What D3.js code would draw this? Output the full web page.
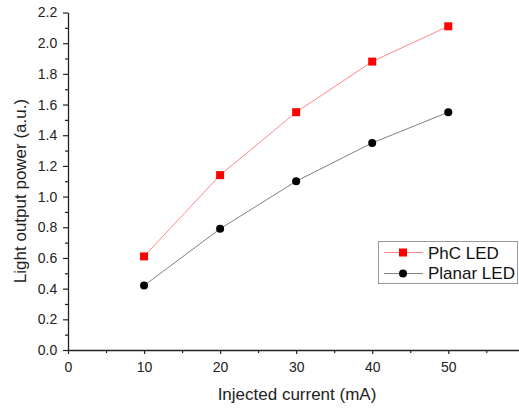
<!DOCTYPE html>
<html>
<head>
<meta charset="utf-8">
<script src="https://cdn.jsdelivr.net/npm/d3@7"></script>
<style>
  body { margin: 0; background: #fff; }
  text { font-family: "Liberation Sans", Arial, sans-serif; }
</style>
</head>
<body>
<svg id="chart" width="519" height="411"></svg>
<script>
// data
let currents = [10, 20, 30, 40, 50]
let phcLed = [0.61, 1.14, 1.55, 1.88, 2.11]
let planarLed = [0.42, 0.79, 1.10, 1.35, 1.55]
let xTicks = [0, 10, 20, 30, 40, 50]
let yTicks = [0, 0.2, 0.4, 0.6, 0.8, 1.0, 1.2, 1.4, 1.6, 1.8, 2.0, 2.2]

let svg = d3.select('#chart')
let padLeft = 68, padBottom = 350, padTop = 12.5

let x = d3.scaleLinear().domain([0, 59.3]).range([padLeft, 519])
let y = d3.scaleLinear().domain([0, 2.2]).range([padBottom, padTop])

// axes
let xAxis = d3.axisBottom(x).tickValues(xTicks).tickFormat(d3.format('d')).tickSize(4).tickSizeOuter(0)
let gx = svg.append('g').attr('transform', 'translate(0,' + padBottom + ')').call(xAxis)
svg.append('g').attr('transform', 'translate(0,' + padBottom + ')')
  .call(d3.axisBottom(x).tickValues(d3.range(5, 59, 10)).tickFormat('').tickSize(3).tickSizeOuter(0))
  .select('.domain').remove()

let yAxis = d3.axisLeft(y).tickValues(yTicks).tickFormat(d3.format('.1f')).tickSize(5).tickSizeOuter(0)
let gy = svg.append('g').attr('transform', 'translate(' + padLeft + ',0)').call(yAxis)
svg.append('g').attr('transform', 'translate(' + padLeft + ',0)')
  .call(d3.axisLeft(y).tickValues(d3.range(0.1, 2.2, 0.2)).tickFormat('').tickSize(3).tickSizeOuter(0))
  .select('.domain').remove()

svg.selectAll('.domain').attr('stroke', '#222').attr('stroke-width', 1.3)
svg.selectAll('.tick line').attr('stroke', '#222').attr('stroke-width', 1.2)
gx.selectAll('text').attr('font-size', 14).attr('fill', '#222').attr('dy', '1.1em')
gy.selectAll('text').attr('font-size', 14).attr('fill', '#222').attr('dx', '-0.2em')

// titles
svg.append('text').attr('x', 297).attr('y', 400).attr('text-anchor', 'middle')
  .attr('font-size', 17).attr('fill', '#222').text('Injected current (mA)')
svg.append('text').attr('transform', 'translate(26,191) rotate(-90)').attr('text-anchor', 'middle')
  .attr('font-size', 17).attr('fill', '#222').text('Light output power (a.u.)')

// series
let line = d3.line().x((d, i) => x(currents[i])).y(d => y(d))

svg.append('path').datum(phcLed).attr('d', line)
  .attr('fill', 'none').attr('stroke', '#ff8888').attr('stroke-width', 1)
svg.append('path').datum(planarLed).attr('d', line)
  .attr('fill', 'none').attr('stroke', '#808080').attr('stroke-width', 1)

svg.selectAll('rect.phc').data(phcLed).enter().append('rect')
  .attr('class', 'phc')
  .attr('x', (d, i) => x(currents[i]) - 4).attr('y', d => y(d) - 4)
  .attr('width', 8).attr('height', 8).attr('fill', '#ff0000')
svg.selectAll('circle.planar').data(planarLed).enter().append('circle')
  .attr('class', 'planar')
  .attr('cx', (d, i) => x(currents[i])).attr('cy', d => y(d))
  .attr('r', 4).attr('fill', '#000')

// legend
let lg = svg.append('g')
lg.append('rect').attr('x', 378.5).attr('y', 241.5).attr('width', 139).attr('height', 42)
  .attr('fill', '#fff').attr('stroke', '#999').attr('stroke-width', 1)
lg.append('line').attr('x1', 384).attr('x2', 423).attr('y1', 252.5).attr('y2', 252.5)
  .attr('stroke', '#ff8888')
lg.append('rect').attr('x', 399).attr('y', 248.5).attr('width', 8).attr('height', 8).attr('fill', '#ff0000')
lg.append('text').attr('x', 428).attr('y', 258.5).attr('font-size', 17).attr('fill', '#111').text('PhC LED')
lg.append('line').attr('x1', 384).attr('x2', 423).attr('y1', 273.5).attr('y2', 273.5)
  .attr('stroke', '#808080')
lg.append('circle').attr('cx', 403).attr('cy', 273.5).attr('r', 4).attr('fill', '#000')
lg.append('text').attr('x', 428).attr('y', 279).attr('font-size', 17).attr('fill', '#111').text('Planar LED')
</script>
</body>
</html>
